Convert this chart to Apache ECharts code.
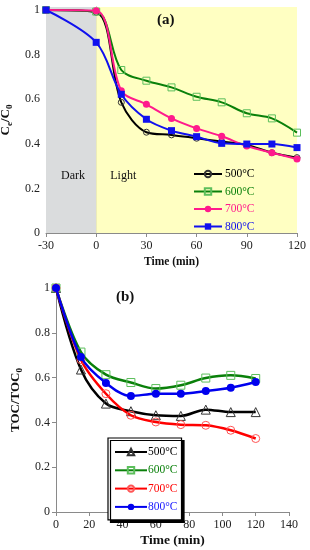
<!DOCTYPE html>
<html><head><meta charset="utf-8">
<script src="https://cdn.jsdelivr.net/npm/echarts@6/dist/echarts.min.js"></script>
<style>html,body{margin:0;padding:0;background:#fff}#c{width:310px;height:550px}</style>
</head><body><div id="c"></div>
<script>
// ---- data (a): C/C0 vs time ----
const timesA = [-30, 0, 15, 30, 45, 60, 75, 90, 105, 120];
const a500 = [1.0, 0.99, 0.586, 0.452, 0.44, 0.425, 0.41, 0.395, 0.36, 0.338];
const a600 = [1.0, 0.993, 0.731, 0.683, 0.653, 0.611, 0.586, 0.537, 0.514, 0.45];
const a700 = [1.0, 0.997, 0.638, 0.577, 0.514, 0.469, 0.434, 0.39, 0.36, 0.332];
const a800 = [1.0, 0.855, 0.622, 0.51, 0.459, 0.432, 0.402, 0.399, 0.399, 0.383];
// ---- data (b): TOC/TOC0 vs time ----
const timesB = [0, 15, 30, 45, 60, 75, 90, 105, 120];
const b500 = [1.0, 0.636, 0.484, 0.45, 0.432, 0.429, 0.457, 0.446, 0.446];
const b600 = [1.0, 0.714, 0.613, 0.578, 0.551, 0.566, 0.598, 0.61, 0.596];
const b700 = [1.0, 0.68, 0.528, 0.432, 0.402, 0.39, 0.387, 0.365, 0.328];
const b800 = [1.0, 0.692, 0.576, 0.518, 0.528, 0.528, 0.54, 0.555, 0.58];
const labels = ['500°C', '600°C', '700°C', '800°C'];
const yTicks = [0, 0.2, 0.4, 0.6, 0.8, 1];
const xTicksA = [-30, 0, 30, 60, 90, 120];
const xTicksB = [0, 20, 40, 60, 80, 100, 120, 140];
const phases = ['Dark', 'Light'];

const F = 'Liberation Serif';
const pair = (xs, ys) => xs.map((x, i) => [x, ys[i]]);
const yFmt = v => (v === 0 ? '0' : v === 1 ? '1' : v.toFixed(1));

const axisCommon = {
  axisLine: { show: true, lineStyle: { color: '#8a8a8a', width: 1 } },
  axisTick: { show: true, length: 4, lineStyle: { color: '#8a8a8a' } },
  splitLine: { show: false },
  axisLabel: { color: '#222', fontFamily: F, fontSize: 12, margin: 6 }
};

const chart = echarts.init(document.getElementById('c'), null, { renderer: 'canvas' });

const topColors = ['#000000', '#0a800a', '#ff1a8c', '#1010ee'];
const topMarkColors = ['#333', '#5cbf5c', '#ff1a8c', '#1010ee'];
const topSyms = ['circle', 'rect', 'circle', 'rect'];
const topSizes = [6, 7, 7, 7];
const topFill = [false, false, true, true];
const topData = [a500, a600, a700, a800];

const botColors = ['#000000', '#0a800a', '#ff0000', '#0000ee'];
const botMarkColors = ['#333', '#5cbf5c', '#ff5555', '#0000ee'];
const botSyms = ['triangle', 'rect', 'circle', 'circle'];
const botSizes = [9, 8, 8, 8];
const botFill = [false, false, false, true];
const botData = [b500, b600, b700, b800];

const series = [];
topData.forEach((d, i) => {
  series.push({
    name: 'a' + labels[i], type: 'line', xAxisIndex: 0, yAxisIndex: 0,
    data: pair(timesA, d), smooth: 0.33,
    symbol: topSyms[i], symbolSize: topSizes[i], showAllSymbol: true,
    lineStyle: { color: topColors[i], width: 2 },
    itemStyle: { color: topFill[i] ? topMarkColors[i] : 'rgba(0,0,0,0)', borderColor: topMarkColors[i], borderWidth: topFill[i] ? 0 : 1 },
    z: 3 + i,
    markArea: i === 0 ? {
      silent: true,
      data: [
        [{ xAxis: timesA[0], itemStyle: { color: '#dadcdd' },
           label: { show: true, formatter: phases[0], position: ['30%', '72%'], color: '#111', fontFamily: F, fontSize: 12 } },
         { xAxis: timesA[1] }],
        [{ xAxis: timesA[1], itemStyle: { color: '#ffffc2' },
           label: { show: true, formatter: phases[1], position: ['7%', '72%'], color: '#111', fontFamily: F, fontSize: 12 } },
         { xAxis: timesA[timesA.length - 1] }]
      ]
    } : undefined
  });
});
botData.forEach((d, i) => {
  series.push({
    name: 'b' + labels[i], type: 'line', xAxisIndex: 1, yAxisIndex: 1,
    data: pair(timesB, d), smooth: 0.33,
    symbol: botSyms[i], symbolSize: botSizes[i], showAllSymbol: true,
    lineStyle: { color: botColors[i], width: 2.5 },
    itemStyle: { color: botFill[i] ? botMarkColors[i] : 'rgba(0,0,0,0)', borderColor: botMarkColors[i], borderWidth: botFill[i] ? 0 : 1 },
    z: 3 + i
  });
});

const option = {
  animation: false,
  backgroundColor: '#fff',
  title: [
    { text: '(a)', left: 157, top: 13, padding: 0, textStyle: { fontFamily: F, fontWeight: 'bold', fontSize: 15, color: '#111' } },
    { text: '(b)', left: 116, top: 290, padding: 0, textStyle: { fontFamily: F, fontWeight: 'bold', fontSize: 15, color: '#111' } }
  ],
  grid: [
    { left: 46, right: 13, top: 7, bottom: 317, outerBoundsMode: 'none', containLabel: false },
    { left: 56, right: 21, top: 288, bottom: 38, outerBoundsMode: 'none', containLabel: false }
  ],
  xAxis: [
    Object.assign({}, axisCommon, {
      type: 'value', gridIndex: 0, min: xTicksA[0], max: xTicksA[xTicksA.length - 1], interval: 30,
      name: 'Time (min)', nameLocation: 'middle', nameGap: 23,
      nameTextStyle: { fontFamily: F, fontWeight: 'bold', fontSize: 11.5, color: '#111' },
      axisLabel: Object.assign({}, axisCommon.axisLabel, { margin: 7 })
    }),
    Object.assign({}, axisCommon, {
      type: 'value', gridIndex: 1, min: xTicksB[0], max: xTicksB[xTicksB.length - 1], interval: 20,
      name: 'Time (min)', nameLocation: 'middle', nameGap: 22,
      nameTextStyle: { fontFamily: F, fontWeight: 'bold', fontSize: 13.5, color: '#111' },
      axisLabel: Object.assign({}, axisCommon.axisLabel, { margin: 7 })
    })
  ],
  yAxis: [
    Object.assign({}, axisCommon, {
      type: 'value', gridIndex: 0, min: 0, max: 1.0135,
      axisTick: Object.assign({}, axisCommon.axisTick, { customValues: yTicks }),
      axisLabel: Object.assign({}, axisCommon.axisLabel, { customValues: yTicks, formatter: yFmt }),
      name: '{a|C}{s|e}{a|/C}{s|0}', nameLocation: 'middle', nameGap: 24,
      nameTextStyle: { rich: {
        a: { fontFamily: F, fontWeight: 'bold', fontSize: 13, color: '#111' },
        s: { fontFamily: F, fontWeight: 'bold', fontSize: 9, color: '#111', verticalAlign: 'bottom', padding: [8, 0, 0, 0] }
      } }
    }),
    Object.assign({}, axisCommon, {
      type: 'value', gridIndex: 1, min: 0, max: 1, interval: 0.2,
      axisLabel: Object.assign({}, axisCommon.axisLabel, { formatter: yFmt }),
      name: '{a|TOC/TOC}{s|0}', nameLocation: 'middle', nameGap: 29,
      nameTextStyle: { rich: {
        a: { fontFamily: F, fontWeight: 'bold', fontSize: 13, color: '#111' },
        s: { fontFamily: F, fontWeight: 'bold', fontSize: 9, color: '#111', verticalAlign: 'bottom', padding: [8, 0, 0, 0] }
      } }
    })
  ],
  legend: [
    {
      orient: 'vertical', left: 193, top: 168, padding: 0,
      itemWidth: 28, itemHeight: 8, itemGap: 5.5,
      data: labels.map((l, i) => ({ name: 'a' + l, textStyle: { color: topColors[i] } })),
      formatter: n => n.slice(1),
      textStyle: { fontFamily: F, fontSize: 11.5, padding: [0, 0, 0, -2] },
      selectedMode: false
    },
    {
      orient: 'vertical', left: 108, top: 438, padding: [8, 4, 7, 6],
      itemWidth: 32, itemHeight: 8, itemGap: 6.3,
      backgroundColor: '#fff', borderColor: '#000', borderWidth: 1.2,
      shadowColor: '#000', shadowBlur: 0, shadowOffsetX: 2.5, shadowOffsetY: 2.5,
      data: labels.map((l, i) => ({ name: 'b' + l, textStyle: { color: botColors[i] === '#0000ee' ? '#2020ff' : botColors[i] } })),
      formatter: n => n.slice(1),
      textStyle: { fontFamily: F, fontSize: 11.5, padding: [0, 0, 0, -4] },
      selectedMode: false
    }
  ],
  series: series
};
chart.setOption(option);
</script>
</body></html>
